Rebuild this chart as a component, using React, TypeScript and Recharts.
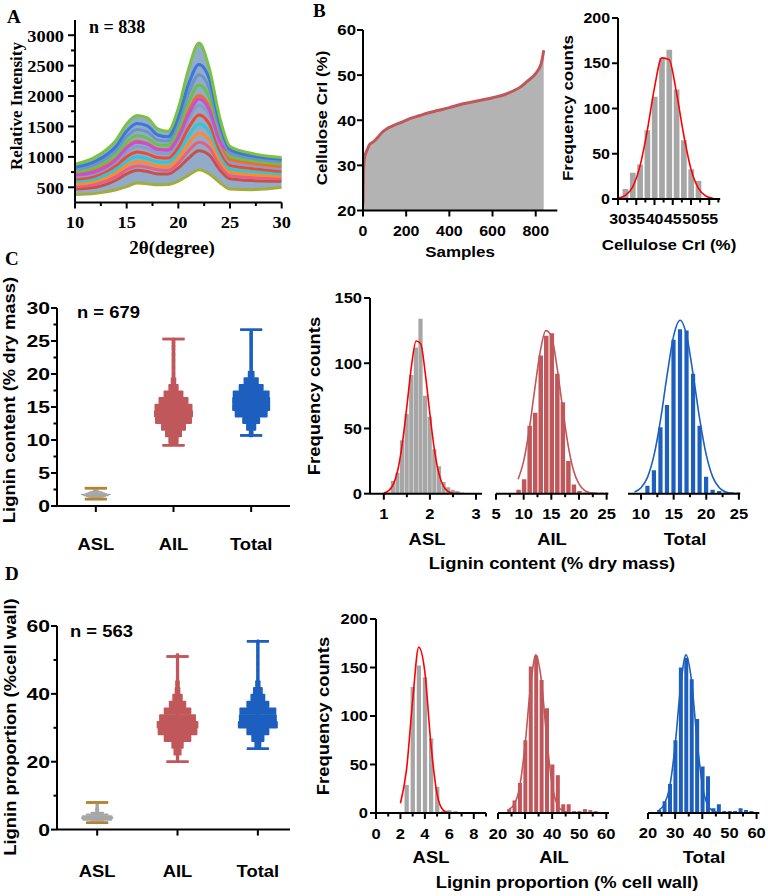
import React from 'react';
import { ComposedChart, Line, Area, Bar, Scatter, XAxis, YAxis } from 'recharts';

const SANS = '"Liberation Sans", Arial, Helvetica, sans-serif';
const SERIF = '"Liberation Serif", "Times New Roman", serif';

const GRAY = '#a6a6a6';
const AREA_GRAY = '#b3b3b3';
const RED = '#c0575a';
const BLUE = '#1d5fbf';
const CAP = '#b5832f';
const FIT = '#ff0000';
const AX = { stroke: '#000', strokeWidth: 2 };

// ---------- A: XRD patterns (2θ vs intensity)
const twoTheta = [10, 12, 14, 15, 16, 17, 18, 19, 20, 21, 22, 23, 24, 25, 27, 30];
const xrdTop = [880, 1000, 1280, 1540, 1680, 1640, 1460, 1420, 1800, 2450, 2870, 2450, 1650, 1170, 1060, 990];
const xrdBlue = [830, 930, 1180, 1420, 1550, 1510, 1360, 1330, 1660, 2200, 2520, 2280, 1560, 1120, 1020, 960];
const xrdSteel = [790, 880, 1110, 1330, 1450, 1410, 1280, 1260, 1560, 2050, 2350, 2120, 1460, 1060, 980, 920];
const xrdMagenta = [700, 760, 960, 1150, 1240, 1210, 1120, 1110, 1320, 1700, 1950, 1770, 1260, 1080, 1000, 950];
const xrdGreen = [750, 830, 1040, 1240, 1350, 1310, 1200, 1190, 1460, 1900, 2180, 1970, 1370, 1010, 940, 880];
const xrdOrange = [710, 780, 980, 1160, 1260, 1220, 1130, 1120, 1360, 1760, 2010, 1820, 1280, 960, 900, 840];
const xrdSlate = [670, 730, 920, 1080, 1170, 1140, 1060, 1050, 1260, 1620, 1850, 1680, 1200, 910, 860, 800];
const xrdVermilion = [630, 690, 860, 1000, 1080, 1050, 990, 980, 1160, 1480, 1690, 1540, 1110, 860, 810, 760];
const xrdCyan = [590, 640, 800, 930, 1000, 970, 920, 910, 1070, 1350, 1540, 1410, 1030, 800, 760, 720];
const xrdAmber = [550, 600, 740, 860, 920, 900, 850, 840, 980, 1220, 1390, 1280, 950, 750, 710, 680];
const xrdPink = [510, 550, 680, 790, 850, 830, 790, 780, 900, 1100, 1240, 1150, 870, 690, 660, 640];
const xrdBrick = [470, 500, 620, 720, 780, 760, 720, 720, 820, 980, 1100, 1030, 790, 640, 610, 600];
const xrdBottom = [380, 400, 460, 510, 570, 560, 540, 545, 600, 700, 790, 720, 580, 470, 460, 500];
const xrdCurves = [
  { key: 'bottom', color: '#a4ad3a', values: xrdBottom },
  { key: 'brick', color: '#c8504a', values: xrdBrick },
  { key: 'pink', color: '#e8607f', values: xrdPink },
  { key: 'amber', color: '#ff8a2a', values: xrdAmber },
  { key: 'cyan', color: '#2fc6d8', values: xrdCyan },
  { key: 'vermilion', color: '#ee4a2f', values: xrdVermilion },
  { key: 'slate', color: '#8a9cc2', values: xrdSlate },
  { key: 'orange', color: '#f7692b', values: xrdOrange },
  { key: 'green', color: '#6cc04a', values: xrdGreen },
  { key: 'magenta', color: '#c84fd0', values: xrdMagenta },
  { key: 'steel', color: '#6d94c6', values: xrdSteel },
  { key: 'blue', color: '#3c78d8', values: xrdBlue },
  { key: 'top', color: '#7cc242', values: xrdTop },
];

// ---------- B: cellulose CrI, sorted samples + histogram
const crSample = [0, 2, 5, 10, 20, 30, 50, 70, 90, 110, 140, 180, 220, 260, 300, 350, 400, 450, 500, 550, 600, 650, 700, 730, 760, 790, 810, 825, 832, 837];
const crSorted = [21.5, 28, 31, 32.3, 33.5, 34.6, 35.3, 36.3, 37.4, 38.1, 38.8, 39.6, 40.4, 41, 41.6, 42.2, 42.8, 43.5, 44, 44.5, 45, 45.6, 46.6, 47.4, 48.6, 49.8, 51, 52.5, 54, 55.5];
const crBins = [32, 34, 36, 38, 40, 42, 44, 46, 48, 50, 52];
const crCounts = [11, 29, 38, 76, 113, 156, 165, 121, 65, 33, 20];
const crFitX = [30, 32, 34, 36, 38, 40, 42, 44, 46, 48, 50, 52, 54, 56];
const crFitY = [1, 4, 13, 36, 75, 123, 156, 154, 118, 71, 33, 12, 3.4, 0.7];

// ---------- C: lignin content (% dry mass)
const aslCBins = [1.1, 1.2, 1.3, 1.4, 1.5, 1.6, 1.7, 1.8, 1.9, 2.0, 2.1, 2.2, 2.3, 2.4, 2.5, 2.6, 2.7];
const aslCCounts = [1, 10, 16, 41, 61, 91, 112, 134, 75, 59, 34, 21, 9, 5, 3, 2, 1];
const aslCFitX = [1.0, 1.1, 1.2, 1.3, 1.4, 1.5, 1.6, 1.7, 1.8, 1.9, 2.0, 2.1, 2.2, 2.3, 2.4, 2.5, 2.6, 2.7];
const aslCFitY = [0.5, 2.1, 6.7, 17.6, 38, 67, 98, 117, 115, 92, 61, 33, 14.7, 5.4, 1.6, 0.4, 0.1, 0];
const ailCBins = [9, 10, 11, 12, 13, 14, 15, 16, 17, 18, 19, 20, 21, 22, 23, 24, 25];
const ailCCounts = [3, 11, 52, 62, 106, 121, 123, 92, 70, 25, 7, 2, 1, 1, 1, 1, 1];
const ailCFitY = [11, 25, 49, 80, 109, 125, 121, 98, 67, 38, 18, 7.5, 2.5, 0.7, 0.2, 0, 0];
const totCBins = [11, 12, 13, 14, 15, 16, 17, 18, 19, 20, 21, 22, 23, 24, 25];
const totCCounts = [6, 18, 51, 68, 118, 126, 125, 92, 52, 13, 3, 2, 1, 1, 1];
const totCFitX = [9, 10, 11, 12, 13, 14, 15, 16, 17, 18, 19, 20, 21, 22, 23, 24, 25];
const totCFitY = [1.3, 4.5, 12.7, 29.7, 57, 91, 121, 133, 121, 91, 57, 29.7, 12.7, 4.5, 1.3, 0.3, 0.1];
// scatter-dot swarms (levels and relative density)
const ailCLevels = [10, 11, 12, 13, 14, 15, 16, 17, 18, 19, 20, 21, 22, 23, 24, 25];
const ailCDensity = [7, 19, 41, 90, 100, 95, 59, 26, 7, 2, 1, 1, 1, 1, 1, 1];
const totCLevels = [11, 12, 13, 14, 15, 16, 17, 18, 19, 20, 21, 22, 23, 24, 25, 26];
const totCDensity = [2, 9, 28, 94, 125, 125, 118, 54, 20, 4, 1, 1, 1, 1, 1, 1];
const rangeC = { asl: [1.05, 2.7], ail: [9.2, 25.3], total: [10.7, 26.7] };

// ---------- D: lignin proportion (% cell wall)
const aslDBins = [2, 2.5, 3, 3.5, 4, 4.5, 5, 5.5, 6, 6.5, 7, 7.5, 8];
const aslDCounts = [1, 29, 130, 152, 140, 77, 27, 2, 3, 2, 1, 1, 1];
const aslDFitY = [10, 45, 116, 171, 145, 70, 19.5, 3, 0.3, 0, 0, 0, 0];
const propBins = [24, 26, 28, 30, 32, 34, 36, 38, 40, 42, 44, 46, 48, 50, 52, 54, 56, 58];
const ailDCounts = [4, 13, 31, 75, 151, 162, 137, 108, 50, 39, 9, 9, 2, 2, 4, 3, 2, 1];
const totDCounts = [3, 12, 30, 75, 150, 160, 138, 97, 48, 38, 5, 9, 2, 2, 2, 5, 3, 2];
const propFitX = [24, 26, 28, 30, 32, 34, 36, 38, 40, 42, 44, 46, 48, 50, 52, 54, 56, 58, 60];
const ailDFitY = [4, 9, 27, 70, 130, 163, 137, 77, 29, 8, 2, 0.5, 0, 0, 0, 0, 0, 0, 0];
const totDFitY = [3, 9, 27, 70, 130, 163, 137, 77, 29, 8, 2, 0.5, 0, 0, 0, 0, 0, 0, 0];
const ailDLevels = [21, 23, 25, 27, 29, 31, 33, 35, 37, 39, 41, 43, 45, 47, 49, 51];
const ailDDensity = [1, 6, 14, 70, 145, 160, 125, 70, 28, 10, 3, 2, 1, 1, 1, 1];
const totDLevels = [25, 27, 29, 31, 33, 35, 37, 39, 41, 43, 45, 47, 49, 51, 53, 55];
const totDDensity = [5, 18, 55, 166, 150, 142, 55, 23, 10, 3, 1, 1, 1, 1, 1, 1];
const rangeD = { asl: [2.0, 8.0], ail: [20.0, 51.0], total: [23.8, 55.5] };

const groupNames: Record<string, string> = { '1': 'ASL', '2': 'AIL', '3': 'Total' };

// ---------- helpers
const PL = 56, PT = 12, PR = 14, PB = 56;

function place(box: number[], showY = true) {
  const [x0, y0, x1, y1] = box;
  return {
    wrap: { position: 'absolute', left: x0 - (showY ? PL : PL), top: y0 - PT } as React.CSSProperties,
    chart: {
      width: x1 - x0 + PL + PR,
      height: y1 - y0 + PT + PB,
      margin: { top: PT, right: PR, bottom: 0, left: showY ? 0 : PL },
    },
  };
}

function T({ x, y, size = 16, anchor = 'middle', rotate = 0, sx = 1.15, serif = false, children }: any) {
  return (
    <text
      transform={`translate(${x},${y}) rotate(${rotate}) scale(${sx},1)`}
      textAnchor={anchor}
      fontFamily={serif ? SERIF : SANS}
      fontWeight="bold"
      fontSize={size}
      fill="#000"
    >
      {children}
    </text>
  );
}

type TickOpt = { majors: number[]; gap: number; size: number; sx: number; serif?: boolean; major?: number; minor?: number; names?: Record<string, string> };

function xTick(o: TickOpt) {
  return (p: any) => {
    const v = p.payload.value;
    const big = o.majors.includes(v);
    const len = big ? o.major ?? 6 : o.minor ?? 3.5;
    return (
      <g>
        <line x1={p.x} x2={p.x} y1={p.y} y2={p.y + len} stroke="#000" strokeWidth={2} />
        {big && (
          <T x={p.x} y={p.y + o.gap} size={o.size} sx={o.sx} serif={o.serif}>
            {o.names ? o.names[String(v)] : String(v)}
          </T>
        )}
      </g>
    );
  };
}

function yTick(o: TickOpt) {
  return (p: any) => {
    const v = p.payload.value;
    const big = o.majors.includes(v);
    const len = big ? o.major ?? 6 : o.minor ?? 3.5;
    return (
      <g>
        <line x1={p.x - len} x2={p.x} y1={p.y} y2={p.y} stroke="#000" strokeWidth={2} />
        {big && (
          <T x={p.x - o.gap} y={p.y + o.size * 0.36} size={o.size} sx={o.sx} serif={o.serif} anchor="end">
            {String(v)}
          </T>
        )}
      </g>
    );
  };
}

function histRows(bins: number[], counts: number[], fx: number[], fy: number[]) {
  const xs = Array.from(new Set([...bins, ...fx])).sort((a, b) => a - b);
  return xs.map((x) => {
    const i = bins.indexOf(x);
    const j = fx.indexOf(x);
    return { x, n: i >= 0 ? counts[i] : 0, fit: j >= 0 ? fy[j] : null };
  });
}

type HistProps = {
  box: number[]; showY: boolean; bins: number[]; counts: number[]; fitX: number[]; fitY: number[];
  color: string; fitColor: string; barSize: number; xDomain: number[]; xTicks: number[]; xMajors: number[];
  yDomain: number[]; yTicks: number[]; font: number; sx: number;
};

function Hist(p: HistProps) {
  const rows = histRows(p.bins, p.counts, p.fitX, p.fitY);
  const pl = place(p.box, p.showY);
  return (
    <div style={pl.wrap}>
      <ComposedChart {...pl.chart} data={rows}>
        <XAxis
          dataKey="x" type="number" domain={p.xDomain} ticks={p.xTicks} interval={0}
          tickSize={0} tickMargin={0} tickLine={false} axisLine={AX} height={PB} allowDataOverflow
          tick={xTick({ majors: p.xMajors, gap: 25.5, size: p.font, sx: p.sx })}
        />
        <YAxis
          type="number" domain={p.yDomain} ticks={p.yTicks} interval={0} hide={!p.showY} width={PL}
          tickSize={0} tickMargin={0} tickLine={false} axisLine={AX} allowDataOverflow
          tick={yTick({ majors: p.yTicks, gap: 8, size: p.font, sx: p.sx })}
        />
        <Bar dataKey="n" fill={p.color} barSize={p.barSize} isAnimationActive={false} />
        <Line dataKey="fit" type="monotone" stroke={p.fitColor} strokeWidth={1.6} dot={false} connectNulls isAnimationActive={false} />
      </ComposedChart>
    </div>
  );
}

type Group = { pos: number; levels: number[]; dens: number[]; k: number; color: string; range: number[]; line: string; cap: string };

function rowShape(color: string, k: number, rowPx: number) {
  return (p: any) => {
    const w = Math.max(3, k * Math.sqrt(p.payload.n));
    return <rect x={p.cx - w / 2} y={p.cy - rowPx / 2} width={w} height={rowPx + 0.6} fill={color} rx={1} />;
  };
}

function capShape(color: string) {
  return (p: any) => <line x1={p.cx - 11} x2={p.cx + 11} y1={p.cy} y2={p.cy} stroke={color} strokeWidth={2.5} />;
}

function Swarm({ box, groups, yDomain, yTicks, yMajors, labelGap }: { box: number[]; groups: Group[]; yDomain: number[]; yTicks: number[]; yMajors: number[]; labelGap: number }) {
  const pl = place(box);
  const pxPerUnit = (box[3] - box[1]) / (yDomain[1] - yDomain[0]);
  return (
    <div style={pl.wrap}>
      <ComposedChart {...pl.chart}>
        <XAxis
          dataKey="x" type="number" domain={[0.5, box[2] - box[0] > 232 && yDomain[1] === 60 ? 3.4 : 3.5]} ticks={[1, 2, 3]} interval={0}
          tickSize={0} tickMargin={0} tickLine={false} axisLine={AX} height={PB} allowDataOverflow
          tick={xTick({ majors: [1, 2, 3], gap: labelGap, size: 16, sx: 1.15, names: groupNames })}
        />
        <YAxis
          dataKey="y" type="number" domain={yDomain} ticks={yTicks} interval={0} width={PL}
          tickSize={0} tickMargin={0} tickLine={false} axisLine={AX} allowDataOverflow
          tick={yTick({ majors: yMajors, gap: 7, size: 16.5, sx: 1.28 })}
        />
        {groups.map((g) => (
          <Scatter
            key={`w${g.pos}`}
            data={[{ x: g.pos, y: g.range[0] }, { x: g.pos, y: g.range[1] }]}
            line={{ stroke: g.line, strokeWidth: 3 }}
            shape={capShape(g.cap)}
            isAnimationActive={false}
          />
        ))}
        {groups.map((g) => (
          <Scatter
            key={`r${g.pos}`}
            data={g.levels.map((y, i) => ({ x: g.pos, y, n: g.dens[i] }))}
            shape={rowShape(g.color, g.k, (g.levels[1] - g.levels[0]) * pxPerUnit)}
            isAnimationActive={false}
          />
        ))}
        {groups.map((g) => (
          <Scatter
            key={`c${g.pos}`}
            data={[{ x: g.pos, y: g.range[0] }, { x: g.pos, y: g.range[1] }]}
            shape={capShape(g.cap)}
            isAnimationActive={false}
          />
        ))}
      </ComposedChart>
    </div>
  );
}

// ---------- panels
function PanelA() {
  const rows = twoTheta.map((t, i) => {
    const r: any = { t, band: [xrdBottom[i], xrdTop[i]] };
    xrdCurves.forEach((c) => { r[c.key] = c.values[i]; });
    return r;
  });
  const pl = place([75, 19.8, 281.7, 202.3]);
  return (
    <div style={pl.wrap}>
      <ComposedChart {...pl.chart} data={rows}>
        <XAxis
          dataKey="t" type="number" domain={[10, 30]} ticks={[10, 12.5, 15, 17.5, 20, 22.5, 25, 27.5, 30]} interval={0}
          tickSize={0} tickMargin={0} tickLine={false} axisLine={AX} height={PB} allowDataOverflow
          tick={xTick({ majors: [10, 15, 20, 25, 30], gap: 26, size: 17.5, sx: 1.05, serif: true, major: 6, minor: 3.5 })}
        />
        <YAxis
          type="number" domain={[250, 3250]} ticks={[500, 750, 1000, 1250, 1500, 1750, 2000, 2250, 2500, 2750, 3000]} interval={0} width={PL}
          tickSize={0} tickMargin={0} tickLine={false} axisLine={AX} allowDataOverflow
          tick={yTick({ majors: [500, 1000, 1500, 2000, 2500, 3000], gap: 11, size: 17.5, sx: 1.05, serif: true, major: 7, minor: 4 })}
        />
        <Area dataKey="band" type="monotone" stroke="none" fill="#7f9cc2" fillOpacity={0.85} isAnimationActive={false} />
        {xrdCurves.map((c) => (
          <Line key={c.key} dataKey={c.key} type="monotone" stroke={c.color} strokeWidth={3} dot={false} isAnimationActive={false} />
        ))}
      </ComposedChart>
    </div>
  );
}

function PanelBLeft() {
  const rows = crSample.map((s, i) => ({ s, cr: crSorted[i] }));
  const pl = place([363.3, 29.5, 557.6, 210]);
  return (
    <div style={pl.wrap}>
      <ComposedChart {...pl.chart} data={rows}>
        <XAxis
          dataKey="s" type="number" domain={[0, 900]} ticks={[0, 200, 400, 600, 800]} interval={0}
          tickSize={0} tickMargin={0} tickLine={false} axisLine={AX} height={PB} allowDataOverflow
          tick={xTick({ majors: [0, 200, 400, 600, 800], gap: 26, size: 14.5, sx: 1.1 })}
        />
        <YAxis
          type="number" domain={[20, 60]} ticks={[20, 30, 40, 50, 60]} interval={0} width={PL}
          tickSize={0} tickMargin={0} tickLine={false} axisLine={AX} allowDataOverflow
          tick={yTick({ majors: [20, 30, 40, 50, 60], gap: 7, size: 15, sx: 1.12 })}
        />
        <Area dataKey="cr" type="monotone" stroke={RED} strokeWidth={3} fill={AREA_GRAY} fillOpacity={1} isAnimationActive={false} />
      </ComposedChart>
    </div>
  );
}

export default function App() {
  return (
    <div style={{ position: 'absolute', left: 0, top: 0, width: 768, height: 896, background: '#fff', overflow: 'hidden' }}>
      <PanelA />
      <PanelBLeft />
      <Hist
        box={[618, 18.3, 720.2, 199.3]} showY bins={crBins} counts={crCounts} fitX={crFitX} fitY={crFitY}
        color={GRAY} fitColor={FIT} barSize={5.7} xDomain={[30, 58]}
        xTicks={[30, 32.5, 35, 37.5, 40, 42.5, 45, 47.5, 50, 52.5, 55, 57.5]} xMajors={[30, 35, 40, 45, 50, 55]}
        yDomain={[0, 200]} yTicks={[0, 50, 100, 150, 200]} font={14.5} sx={1.1}
      />

      <Swarm
        box={[57, 308, 290, 506]} yDomain={[0, 30]}
        yTicks={[0, 2.5, 5, 7.5, 10, 12.5, 15, 17.5, 20, 22.5, 25, 27.5, 30]} yMajors={[0, 5, 10, 15, 20, 25, 30]} labelGap={44}
        groups={[
          { pos: 1, levels: aslCBins, dens: aslCCounts, k: 2.6, color: GRAY, range: rangeC.asl, line: GRAY, cap: CAP },
          { pos: 2, levels: ailCLevels, dens: ailCDensity, k: 3.9, color: RED, range: rangeC.ail, line: RED, cap: RED },
          { pos: 3, levels: totCLevels, dens: totCDensity, k: 3.4, color: BLUE, range: rangeC.total, line: BLUE, cap: BLUE },
        ]}
      />
      <Hist
        box={[370, 298.3, 482, 494]} showY bins={aslCBins} counts={aslCCounts} fitX={aslCFitX} fitY={aslCFitY}
        color={GRAY} fitColor={FIT} barSize={4.2} xDomain={[0.7, 3.13]} xTicks={[1, 1.5, 2, 2.5, 3]} xMajors={[1, 2, 3]}
        yDomain={[0, 150]} yTicks={[0, 50, 100, 150]} font={15} sx={1.1}
      />
      <Hist
        box={[496, 298.3, 608.3, 494]} showY={false} bins={ailCBins} counts={ailCCounts} fitX={ailCBins} fitY={ailCFitY}
        color={RED} fitColor={RED} barSize={4.5} xDomain={[5, 25.3]} xTicks={[5, 7.5, 10, 12.5, 15, 17.5, 20, 22.5, 25]} xMajors={[5, 10, 15, 20, 25]}
        yDomain={[0, 150]} yTicks={[0, 50, 100, 150]} font={15} sx={1.1}
      />
      <Hist
        box={[628.3, 298.3, 740.5, 494]} showY={false} bins={totCBins} counts={totCCounts} fitX={totCFitX} fitY={totCFitY}
        color={BLUE} fitColor={BLUE} barSize={4.2} xDomain={[8, 25.2]} xTicks={[10, 12.5, 15, 17.5, 20, 22.5, 25]} xMajors={[10, 15, 20, 25]}
        yDomain={[0, 150]} yTicks={[0, 50, 100, 150]} font={15} sx={1.1}
      />

      <Swarm
        box={[57, 625.7, 290, 829.3]} yDomain={[0, 60]}
        yTicks={[0, 10, 20, 30, 40, 50, 60]} yMajors={[0, 20, 40, 60]} labelGap={47}
        groups={[
          { pos: 1, levels: aslDBins, dens: aslDCounts, k: 2.6, color: GRAY, range: rangeD.asl, line: GRAY, cap: CAP },
          { pos: 2, levels: ailDLevels, dens: ailDDensity, k: 3.3, color: RED, range: rangeD.ail, line: RED, cap: RED },
          { pos: 3, levels: totDLevels, dens: totDDensity, k: 3.1, color: BLUE, range: rangeD.total, line: BLUE, cap: BLUE },
        ]}
      />
      <Hist
        box={[376, 619, 486, 813]} showY bins={aslDBins} counts={aslDCounts} fitX={aslDBins} fitY={aslDFitY}
        color={GRAY} fitColor={FIT} barSize={4.3} xDomain={[0, 9]} xTicks={[0, 1, 2, 3, 4, 5, 6, 7, 8, 9]} xMajors={[0, 2, 4, 6, 8]}
        yDomain={[0, 200]} yTicks={[0, 50, 100, 150, 200]} font={15} sx={1.1}
      />
      <Hist
        box={[498, 619, 609, 813]} showY={false} bins={propBins} counts={ailDCounts} fitX={propFitX} fitY={ailDFitY}
        color={RED} fitColor={RED} barSize={4} xDomain={[20, 61]} xTicks={[20, 25, 30, 35, 40, 45, 50, 55, 60]} xMajors={[20, 30, 40, 50, 60]}
        yDomain={[0, 200]} yTicks={[0, 50, 100, 150, 200]} font={15} sx={1.1}
      />
      <Hist
        box={[648.3, 619, 759.6, 813]} showY={false} bins={propBins} counts={totDCounts} fitX={propFitX} fitY={totDFitY}
        color={BLUE} fitColor={BLUE} barSize={4} xDomain={[20, 61]} xTicks={[20, 25, 30, 35, 40, 45, 50, 55, 60]} xMajors={[20, 30, 40, 50, 60]}
        yDomain={[0, 200]} yTicks={[0, 50, 100, 150, 200]} font={15} sx={1.1}
      />

      <svg width={768} height={896} style={{ position: 'absolute', left: 0, top: 0, pointerEvents: 'none' }}>
        <T x={7} y={23} size={19} sx={1} serif anchor="start">A</T>
        <T x={313} y={17} size={19} sx={1} serif anchor="start">B</T>
        <T x={5} y={265} size={19} sx={1} serif anchor="start">C</T>
        <T x={5} y={580} size={19} sx={1} serif anchor="start">D</T>

        <T x={89} y={33} size={18} sx={1} serif anchor="start">n = 838</T>
        <T x={22} y={106} size={17} sx={1} serif rotate={-90}>Relative Intensity</T>
        <T x={172} y={254} size={19} sx={1} serif>2θ(degree)</T>

        <T x={327} y={118} size={15} sx={1.13} rotate={-90}>Cellulose CrI (%)</T>
        <T x={460} y={257} size={15} sx={1.13}>Samples</T>
        <T x={573} y={108} size={15} sx={1.13} rotate={-90}>Frequency counts</T>
        <T x={669} y={250} size={15} sx={1.13}>Cellulose CrI (%)</T>

        <T x={15} y={400} size={16} sx={1.15} rotate={-90}>Lignin content (% dry mass)</T>
        <T x={77} y={318} size={16} sx={1.15} anchor="start">n = 679</T>
        <T x={320} y={396} size={16} sx={1.15} rotate={-90}>Frequency counts</T>
        <T x={427} y={545} size={16} sx={1.15}>ASL</T>
        <T x={552} y={545} size={16} sx={1.15}>AIL</T>
        <T x={685} y={545} size={16} sx={1.15}>Total</T>
        <T x={552} y={569} size={16} sx={1.15}>Lignin content (% dry mass)</T>

        <T x={16} y={727} size={16} sx={1.15} rotate={-90}>Lignin proportion (%cell wall)</T>
        <T x={70} y={637} size={16} sx={1.15} anchor="start">n = 563</T>
        <T x={329} y={716} size={16} sx={1.15} rotate={-90}>Frequency counts</T>
        <T x={431} y={863} size={16} sx={1.15}>ASL</T>
        <T x={554} y={863} size={16} sx={1.15}>AIL</T>
        <T x={704} y={863} size={16} sx={1.15}>Total</T>
        <T x={567} y={888} size={16} sx={1.15}>Lignin proportion (% cell wall)</T>
      </svg>
    </div>
  );
}
